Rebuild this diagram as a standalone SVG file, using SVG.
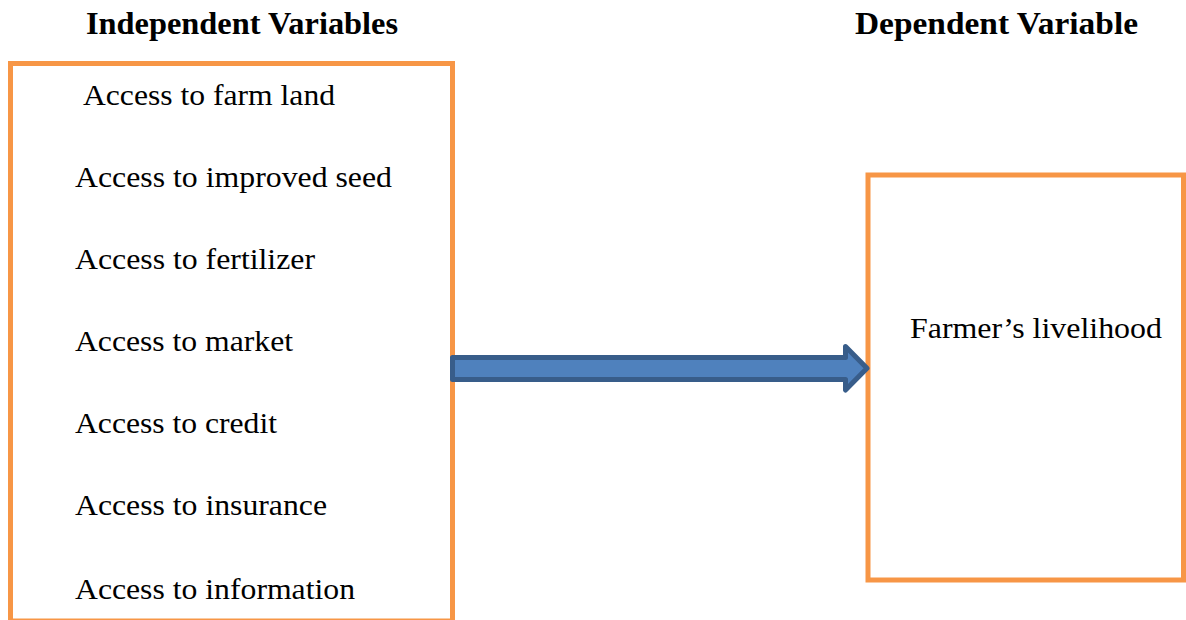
<svg xmlns="http://www.w3.org/2000/svg" width="1186" height="620" viewBox="0 0 1186 620">
<style>
.box{fill:#fff;stroke:#F79646;stroke-width:5}
.t{font-family:"Liberation Serif","Times New Roman",serif;font-size:30px;fill:#000}
.h{font-family:"Liberation Serif","Times New Roman",serif;font-size:32px;font-weight:bold;fill:#000}
.arrow{fill:#4F81BD;stroke:#385D8A;stroke-width:5;stroke-linejoin:round}
</style>
<rect width="1186" height="620" fill="#fff"/>
<text class="h" x="86" y="34" textLength="312" lengthAdjust="spacingAndGlyphs">Independent Variables</text>
<text class="h" x="855" y="34" textLength="283" lengthAdjust="spacingAndGlyphs">Dependent Variable</text>
<g id="independent">
<rect class="box" x="10.5" y="63.5" width="442" height="557.5"/>
<text class="t" x="83" y="105" textLength="252" lengthAdjust="spacingAndGlyphs">Access to farm land</text>
<text class="t" x="75" y="187" textLength="317" lengthAdjust="spacingAndGlyphs">Access to improved seed</text>
<text class="t" x="75" y="269" textLength="240" lengthAdjust="spacingAndGlyphs">Access to fertilizer</text>
<text class="t" x="75" y="351" textLength="218" lengthAdjust="spacingAndGlyphs">Access to market</text>
<text class="t" x="75" y="433" textLength="202" lengthAdjust="spacingAndGlyphs">Access to credit</text>
<text class="t" x="75" y="515" textLength="252" lengthAdjust="spacingAndGlyphs">Access to insurance</text>
<text class="t" x="75" y="599" textLength="280" lengthAdjust="spacingAndGlyphs">Access to information</text>
</g>
<g id="dependent">
<rect class="box" x="868" y="175" width="315.5" height="405"/>
<text class="t" x="910" y="338" textLength="252" lengthAdjust="spacingAndGlyphs">Farmer’s livelihood</text>
</g>
<g id="connectors">
<path class="arrow" d="M452.5,357.5 L845.5,357.5 L845.5,346.5 L867,368.25 L845.5,390 L845.5,379.5 L452.5,379.5 Z"/>
</g>
</svg>
